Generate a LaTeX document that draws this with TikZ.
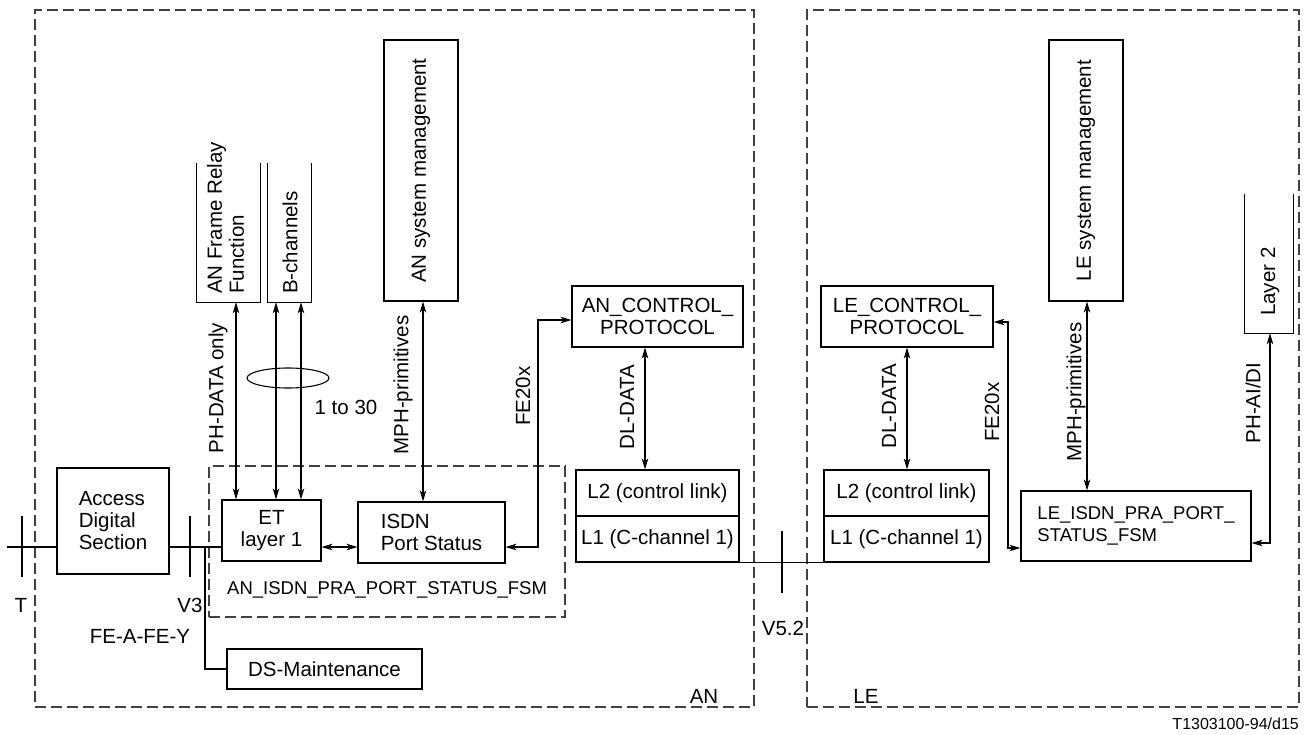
\documentclass[tikz,border=0pt]{standalone}
\usepackage{fontspec}
\setmainfont{Liberation Sans}
\usetikzlibrary{arrows.meta,calc}
\begin{document}
\begin{tikzpicture}[x=1pt,y=-1pt,
  every node/.style={font=\fontsize{20.5}{22}\selectfont},
  box/.style={draw, line width=1.1pt, rectangle, inner sep=0pt},
  openbox/.style={rectangle, inner sep=0pt},
  dashbox/.style={draw=black!75, line width=1.1pt, dash pattern=on 11pt off 5pt, rectangle, inner sep=0pt},
  ln/.style={line width=1.1pt},
  dbl/.style={line width=1.1pt, {Stealth[length=11pt,width=6.5pt,inset=3pt]}-{Stealth[length=11pt,width=6.5pt,inset=3pt]}},
  lbl/.style={inner sep=0pt},
  small/.style={font=\fontsize{18.5}{22}\selectfont}
]
\useasboundingbox (0,0) rectangle (1308,734);

% outer dashed frames
\node[dashbox, minimum width=719pt, minimum height=697pt] (anframe) at (394.5,358.5) {};
\node[dashbox, minimum width=492pt, minimum height=697pt] (leframe) at (1053,358.5) {};
\node[dashbox, minimum width=356pt, minimum height=151pt] (fsmbox) at (387,541.5) {};

% AN side boxes
\node[box, minimum width=112pt, minimum height=106pt, align=left] (ads) at (113,521) {Access\\Digital\\Section};
\node[box, minimum width=99pt, minimum height=61pt, align=center] (et) at (271.5,530.5) {ET\\layer 1};
\node[box, minimum width=147pt, minimum height=61pt, align=left] (isdn) at (431.5,532.5) {ISDN\\Port Status};
\node[box, minimum width=195pt, minimum height=40pt] (dsm) at (324.5,669) {DS-Maintenance};
\node[box, minimum width=171pt, minimum height=61pt, align=center] (anc) at (657.5,316.5) {AN\_CONTROL\_\\PROTOCOL};
\node[box, minimum width=163pt, minimum height=46pt] (anl2) at (657.5,493) {L2 (control link)};
\node[box, minimum width=163pt, minimum height=46pt] (anl1) at (657.5,539) {L1 (C-channel 1)};
\node[box, minimum width=74pt, minimum height=261pt] (ansm) at (421,170.5) {};
\node[lbl, rotate=90] (ansmt) at (ansm.center) {AN system management};

\node[openbox, minimum width=63pt, minimum height=139pt] (frf) at (228.5,232.5) {};
\draw[ln] (frf.north west) -- (frf.south west) -- (frf.south east) -- (frf.north east);
\node[lbl, rotate=90, anchor=west, align=left] (frft) at (225.5,294) {AN Frame Relay\\Function};
\node[openbox, minimum width=43pt, minimum height=139pt] (bch) at (289.5,232.5) {};
\draw[ln] (bch.north west) -- (bch.south west) -- (bch.south east) -- (bch.north east);
\node[lbl, rotate=90, anchor=west] (bcht) at (290,294) {B-channels};

\node[lbl, small, anchor=west] (fsmt) at (227,590) {AN\_ISDN\_PRA\_PORT\_STATUS\_FSM};

% LE side boxes
\node[box, minimum width=172pt, minimum height=61pt, align=center] (lec) at (907,316.5) {LE\_CONTROL\_\\PROTOCOL};
\node[box, minimum width=165pt, minimum height=46pt] (lel2) at (906.5,493) {L2 (control link)};
\node[box, minimum width=165pt, minimum height=46pt] (lel1) at (906.5,539) {L1 (C-channel 1)};
\node[box, minimum width=74pt, minimum height=261pt] (lesm) at (1086,170.5) {};
\node[lbl, rotate=90] (lesmt) at (lesm.center) {LE system management};
\node[box, small, minimum width=230pt, minimum height=70pt, align=left] (lefsm) at (1136,526) {LE\_ISDN\_PRA\_PORT\_\\STATUS\_FSM};
\node[openbox, minimum width=48pt, minimum height=139pt] (lay2) at (1269,263.5) {};
\draw[ln] (lay2.north west) -- (lay2.south west) -- (lay2.south east) -- (lay2.north east);
\node[lbl, rotate=90, anchor=west] (lay2t) at (1270,316) {Layer 2};

% helper coordinates
\coordinate (ya) at (0,547);
\coordinate (yb) at (0,320);
\coordinate (yc) at (0,322);
\coordinate (yd) at (0,548);
\coordinate (ye) at (0,543);
\coordinate (xa) at (236,0);
\coordinate (xb) at (276,0);
\coordinate (xc) at (301,0);
\coordinate (xd) at (423,0);
\coordinate (xe) at (538,0);
\coordinate (xf) at (645,0);
\coordinate (xg) at (205,0);
\coordinate (xh) at (907,0);
\coordinate (xi) at (1008,0);
\coordinate (xj) at (1087,0);
\coordinate (xk) at (1270,0);
\coordinate (tl) at (7,547);

% AN connectors
\draw[ln] (tl) -- (ads.west |- ya);
\draw[ln] (ads.east |- ya) -- (et.west |- ya);
\draw[ln] (22,516) -- (22,577);
\draw[ln] (190,516) -- (190,577);
\draw[ln] (xg |- ya) -- (xg |- dsm.west) -- (dsm.west);
\draw[dbl] (frf.south -| xa) -- (et.north -| xa);
\draw[dbl] (bch.south -| xb) -- (et.north -| xb);
\draw[dbl] (bch.south -| xc) -- (et.north -| xc);
\draw[ln] (288,378) ellipse [x radius=41, y radius=10];
\draw[dbl] (ansm.south -| xd) -- (isdn.north -| xd);
\draw[dbl] (et.east |- ya) -- (isdn.west |- ya);
\draw[dbl] (isdn.east |- ya) -- (xe |- ya) -- (xe |- yb) -- (anc.west |- yb);
\draw[dbl] (anc.south -| xf) -- (anl2.north -| xf);

% V5.2 link
\draw[ln] ($(anl1.south east)+(-6,0)$) -- ($(lel1.south west)+(8,0)$);
\draw[ln] (782,531) -- (782,593);

% LE connectors
\draw[dbl] (lec.south -| xh) -- (lel2.north -| xh);
\draw[dbl] (lec.east |- yc) -- (xi |- yc) -- (xi |- yd) -- (lefsm.west |- yd);
\draw[dbl] (lesm.south -| xj) -- (lefsm.north -| xj);
\draw[dbl] (lay2.south -| xk) -- (xk |- ye) -- (lefsm.east |- ye);

% labels
\node[lbl, rotate=90] (lphd) at (218,388) {PH-DATA only};
\node[lbl] (l130) at (346,407) {1 to 30};
\node[lbl, rotate=90] (lmpha) at (403,385) {MPH-primitives};
\node[lbl, rotate=90] (lfea) at (523,396) {FE20x};
\node[lbl, rotate=90] (ldla) at (627,407) {DL-DATA};
\node[lbl, rotate=90] (ldll) at (889,406) {DL-DATA};
\node[lbl, rotate=90] (lfel) at (992,412) {FE20x};
\node[lbl, rotate=90] (lmphl) at (1076,392) {MPH-primitives};
\node[lbl, rotate=90] (lphai) at (1253,403) {PH-AI/DI};
\node[lbl] (lT) at (21,605) {T};
\node[lbl] (lV3) at (190,605) {V3};
\node[lbl] (lfeafey) at (140,636) {FE-A-FE-Y};
\node[lbl] (lV52) at (783,628) {V5.2};
\node[lbl] (lAN) at (704,696) {AN};
\node[lbl] (lLE) at (866,696) {LE};
\node[lbl, anchor=east, font=\fontsize{16}{18}\selectfont] (lref) at (1299,724) {T1303100-94/d15};
\end{tikzpicture}
\end{document}
